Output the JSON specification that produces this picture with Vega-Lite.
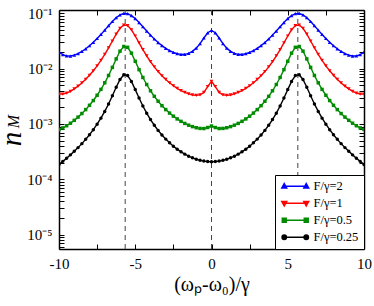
{
"$schema": "https://vega.github.io/schema/vega-lite/v6.json",
"width": 305, "height": 239,
"autosize": "none",
"padding": {"left": 59, "top": 10, "right": 10, "bottom": 57},
"background": "white",
"config": {
  "view": {"stroke": null},
  "font": "Liberation Serif",
  "axis": {"grid": false, "tickColor": "black", "tickWidth": 1, "domainColor": "black", "domainWidth": 1.5, "labelColor": "black", "labelFont": "Liberation Serif", "labelFontSize": 15, "titleColor": "black", "titleFont": "Liberation Serif", "titleFontWeight": "normal"},
  "legend": {"orient": "bottom-right", "offset": 0, "strokeColor": "black", "fillColor": "white", "padding": 5, "labelFont": "Liberation Serif", "labelFontSize": 12.5, "labelColor": "black", "symbolSize": 100, "symbolOffset": 9, "rowPadding": 4, "labelOffset": 12, "symbolOpacity": 1, "symbolStrokeWidth": 1.4}
},
"datasets": {
"guides": [{"v": -5.66}, {"v": 0}, {"v": 5.66}],
"curves": [
{"x":-10,"s":"F/γ=2","n":1.993e-2},{"x":-9.75,"s":"F/γ=2","n":1.788e-2},{"x":-9.5,"s":"F/γ=2","n":1.700e-2},{"x":-9.25,"s":"F/γ=2","n":1.694e-2},{"x":-9,"s":"F/γ=2","n":1.754e-2},{"x":-8.75,"s":"F/γ=2","n":1.872e-2},{"x":-8.5,"s":"F/γ=2","n":2.047e-2},{"x":-8.25,"s":"F/γ=2","n":2.286e-2},{"x":-8,"s":"F/γ=2","n":2.597e-2},{"x":-7.75,"s":"F/γ=2","n":2.999e-2},{"x":-7.5,"s":"F/γ=2","n":3.512e-2},{"x":-7.25,"s":"F/γ=2","n":4.163e-2},{"x":-7,"s":"F/γ=2","n":4.978e-2},{"x":-6.75,"s":"F/γ=2","n":5.973e-2},{"x":-6.5,"s":"F/γ=2","n":7.126e-2},{"x":-6.25,"s":"F/γ=2","n":8.335e-2},{"x":-6,"s":"F/γ=2","n":9.380e-2},{"x":-5.75,"s":"F/γ=2","n":9.962e-2},{"x":-5.5,"s":"F/γ=2","n":9.869e-2},{"x":-5.25,"s":"F/γ=2","n":9.138e-2},{"x":-5,"s":"F/γ=2","n":8.030e-2},{"x":-4.75,"s":"F/γ=2","n":6.832e-2},{"x":-4.5,"s":"F/γ=2","n":5.728e-2},{"x":-4.25,"s":"F/γ=2","n":4.794e-2},{"x":-4,"s":"F/γ=2","n":4.039e-2},{"x":-3.75,"s":"F/γ=2","n":3.440e-2},{"x":-3.5,"s":"F/γ=2","n":2.972e-2},{"x":-3.25,"s":"F/γ=2","n":2.608e-2},{"x":-3,"s":"F/γ=2","n":2.328e-2},{"x":-2.75,"s":"F/γ=2","n":2.116e-2},{"x":-2.5,"s":"F/γ=2","n":1.963e-2},{"x":-2.25,"s":"F/γ=2","n":1.862e-2},{"x":-2,"s":"F/γ=2","n":1.813e-2},{"x":-1.75,"s":"F/γ=2","n":1.818e-2},{"x":-1.5,"s":"F/γ=2","n":1.891e-2},{"x":-1.25,"s":"F/γ=2","n":2.055e-2},{"x":-1,"s":"F/γ=2","n":2.351e-2},{"x":-0.75,"s":"F/γ=2","n":2.842e-2},{"x":-0.5,"s":"F/γ=2","n":3.585e-2},{"x":-0.25,"s":"F/γ=2","n":4.458e-2},
{"x":0,"s":"F/γ=2","n":4.905e-2},
{"x":0.25,"s":"F/γ=2","n":4.458e-2},{"x":0.5,"s":"F/γ=2","n":3.585e-2},{"x":0.75,"s":"F/γ=2","n":2.842e-2},{"x":1,"s":"F/γ=2","n":2.351e-2},{"x":1.25,"s":"F/γ=2","n":2.055e-2},{"x":1.5,"s":"F/γ=2","n":1.891e-2},{"x":1.75,"s":"F/γ=2","n":1.818e-2},{"x":2,"s":"F/γ=2","n":1.813e-2},{"x":2.25,"s":"F/γ=2","n":1.862e-2},{"x":2.5,"s":"F/γ=2","n":1.963e-2},{"x":2.75,"s":"F/γ=2","n":2.116e-2},{"x":3,"s":"F/γ=2","n":2.328e-2},{"x":3.25,"s":"F/γ=2","n":2.608e-2},{"x":3.5,"s":"F/γ=2","n":2.972e-2},{"x":3.75,"s":"F/γ=2","n":3.440e-2},{"x":4,"s":"F/γ=2","n":4.039e-2},{"x":4.25,"s":"F/γ=2","n":4.794e-2},{"x":4.5,"s":"F/γ=2","n":5.728e-2},{"x":4.75,"s":"F/γ=2","n":6.832e-2},{"x":5,"s":"F/γ=2","n":8.030e-2},{"x":5.25,"s":"F/γ=2","n":9.138e-2},{"x":5.5,"s":"F/γ=2","n":9.869e-2},{"x":5.75,"s":"F/γ=2","n":9.962e-2},{"x":6,"s":"F/γ=2","n":9.380e-2},{"x":6.25,"s":"F/γ=2","n":8.335e-2},{"x":6.5,"s":"F/γ=2","n":7.126e-2},{"x":6.75,"s":"F/γ=2","n":5.973e-2},{"x":7,"s":"F/γ=2","n":4.978e-2},{"x":7.25,"s":"F/γ=2","n":4.163e-2},{"x":7.5,"s":"F/γ=2","n":3.512e-2},{"x":7.75,"s":"F/γ=2","n":2.999e-2},{"x":8,"s":"F/γ=2","n":2.597e-2},{"x":8.25,"s":"F/γ=2","n":2.286e-2},{"x":8.5,"s":"F/γ=2","n":2.047e-2},{"x":8.75,"s":"F/γ=2","n":1.872e-2},{"x":9,"s":"F/γ=2","n":1.754e-2},{"x":9.25,"s":"F/γ=2","n":1.694e-2},{"x":9.5,"s":"F/γ=2","n":1.700e-2},{"x":9.75,"s":"F/γ=2","n":1.788e-2},{"x":10,"s":"F/γ=2","n":1.993e-2},

{"x":-10,"s":"F/γ=1","n":3.468e-3},{"x":-9.75,"s":"F/γ=1","n":3.477e-3},{"x":-9.5,"s":"F/γ=1","n":3.629e-3},{"x":-9.25,"s":"F/γ=1","n":3.905e-3},{"x":-9,"s":"F/γ=1","n":4.303e-3},{"x":-8.75,"s":"F/γ=1","n":4.834e-3},{"x":-8.5,"s":"F/γ=1","n":5.527e-3},{"x":-8.25,"s":"F/γ=1","n":6.427e-3},{"x":-8,"s":"F/γ=1","n":7.601e-3},{"x":-7.75,"s":"F/γ=1","n":9.154e-3},{"x":-7.5,"s":"F/γ=1","n":1.1241e-2},{"x":-7.25,"s":"F/γ=1","n":1.4101e-2},{"x":-7,"s":"F/γ=1","n":1.8091e-2},{"x":-6.75,"s":"F/γ=1","n":2.3724e-2},{"x":-6.5,"s":"F/γ=1","n":3.1615e-2},{"x":-6.25,"s":"F/γ=1","n":4.2050e-2},{"x":-6,"s":"F/γ=1","n":5.3615e-2},{"x":-5.75,"s":"F/γ=1","n":6.1455e-2},{"x":-5.5,"s":"F/γ=1","n":6.0039e-2},{"x":-5.25,"s":"F/γ=1","n":5.0513e-2},{"x":-5,"s":"F/γ=1","n":3.8961e-2},{"x":-4.75,"s":"F/γ=1","n":2.9230e-2},{"x":-4.5,"s":"F/γ=1","n":2.2052e-2},{"x":-4.25,"s":"F/γ=1","n":1.6962e-2},{"x":-4,"s":"F/γ=1","n":1.3355e-2},{"x":-3.75,"s":"F/γ=1","n":1.0762e-2},{"x":-3.5,"s":"F/γ=1","n":8.864e-3},{"x":-3.25,"s":"F/γ=1","n":7.449e-3},{"x":-3,"s":"F/γ=1","n":6.375e-3},{"x":-2.75,"s":"F/γ=1","n":5.549e-3},{"x":-2.5,"s":"F/γ=1","n":4.907e-3},{"x":-2.25,"s":"F/γ=1","n":4.406e-3},{"x":-2,"s":"F/γ=1","n":4.016e-3},{"x":-1.75,"s":"F/γ=1","n":3.716e-3},{"x":-1.5,"s":"F/γ=1","n":3.495e-3},{"x":-1.25,"s":"F/γ=1","n":3.351e-3},{"x":-1,"s":"F/γ=1","n":3.296e-3},{"x":-0.75,"s":"F/γ=1","n":3.374e-3},{"x":-0.5,"s":"F/γ=1","n":3.727e-3},{"x":-0.25,"s":"F/γ=1","n":4.726e-3},
{"x":0,"s":"F/γ=1","n":5.914e-3},
{"x":0.25,"s":"F/γ=1","n":4.726e-3},{"x":0.5,"s":"F/γ=1","n":3.727e-3},{"x":0.75,"s":"F/γ=1","n":3.374e-3},{"x":1,"s":"F/γ=1","n":3.296e-3},{"x":1.25,"s":"F/γ=1","n":3.351e-3},{"x":1.5,"s":"F/γ=1","n":3.495e-3},{"x":1.75,"s":"F/γ=1","n":3.716e-3},{"x":2,"s":"F/γ=1","n":4.016e-3},{"x":2.25,"s":"F/γ=1","n":4.406e-3},{"x":2.5,"s":"F/γ=1","n":4.907e-3},{"x":2.75,"s":"F/γ=1","n":5.549e-3},{"x":3,"s":"F/γ=1","n":6.375e-3},{"x":3.25,"s":"F/γ=1","n":7.449e-3},{"x":3.5,"s":"F/γ=1","n":8.864e-3},{"x":3.75,"s":"F/γ=1","n":1.0762e-2},{"x":4,"s":"F/γ=1","n":1.3355e-2},{"x":4.25,"s":"F/γ=1","n":1.6962e-2},{"x":4.5,"s":"F/γ=1","n":2.2052e-2},{"x":4.75,"s":"F/γ=1","n":2.9230e-2},{"x":5,"s":"F/γ=1","n":3.8961e-2},{"x":5.25,"s":"F/γ=1","n":5.0513e-2},{"x":5.5,"s":"F/γ=1","n":6.0039e-2},{"x":5.75,"s":"F/γ=1","n":6.1455e-2},{"x":6,"s":"F/γ=1","n":5.3615e-2},{"x":6.25,"s":"F/γ=1","n":4.2050e-2},{"x":6.5,"s":"F/γ=1","n":3.1615e-2},{"x":6.75,"s":"F/γ=1","n":2.3724e-2},{"x":7,"s":"F/γ=1","n":1.8091e-2},{"x":7.25,"s":"F/γ=1","n":1.4101e-2},{"x":7.5,"s":"F/γ=1","n":1.1241e-2},{"x":7.75,"s":"F/γ=1","n":9.154e-3},{"x":8,"s":"F/γ=1","n":7.601e-3},{"x":8.25,"s":"F/γ=1","n":6.427e-3},{"x":8.5,"s":"F/γ=1","n":5.527e-3},{"x":8.75,"s":"F/γ=1","n":4.834e-3},{"x":9,"s":"F/γ=1","n":4.303e-3},{"x":9.25,"s":"F/γ=1","n":3.905e-3},{"x":9.5,"s":"F/γ=1","n":3.629e-3},{"x":9.75,"s":"F/γ=1","n":3.477e-3},{"x":10,"s":"F/γ=1","n":3.468e-3},

{"x":-10,"s":"F/γ=0.5","n":7.978e-4},{"x":-9.75,"s":"F/γ=0.5","n":8.514e-4},{"x":-9.5,"s":"F/γ=0.5","n":9.294e-4},{"x":-9.25,"s":"F/γ=0.5","n":1.0327e-3},{"x":-9,"s":"F/γ=0.5","n":1.1648e-3},{"x":-8.75,"s":"F/γ=0.5","n":1.3323e-3},{"x":-8.5,"s":"F/γ=0.5","n":1.5454e-3},{"x":-8.25,"s":"F/γ=0.5","n":1.8194e-3},{"x":-8,"s":"F/γ=0.5","n":2.1777e-3},{"x":-7.75,"s":"F/γ=0.5","n":2.6555e-3},{"x":-7.5,"s":"F/γ=0.5","n":3.3085e-3},{"x":-7.25,"s":"F/γ=0.5","n":4.2256e-3},{"x":-7,"s":"F/γ=0.5","n":5.5545e-3},{"x":-6.75,"s":"F/γ=0.5","n":7.5355e-3},{"x":-6.5,"s":"F/γ=0.5","n":1.0543e-2},{"x":-6.25,"s":"F/γ=0.5","n":1.5004e-2},{"x":-6,"s":"F/γ=0.5","n":2.0731e-2},{"x":-5.75,"s":"F/γ=0.5","n":2.5187e-2},{"x":-5.5,"s":"F/γ=0.5","n":2.4340e-2},{"x":-5.25,"s":"F/γ=0.5","n":1.9096e-2},{"x":-5,"s":"F/γ=0.5","n":1.3614e-2},{"x":-4.75,"s":"F/γ=0.5","n":9.599e-3},{"x":-4.5,"s":"F/γ=0.5","n":6.932e-3},{"x":-4.25,"s":"F/γ=0.5","n":5.173e-3},{"x":-4,"s":"F/γ=0.5","n":3.988e-3},{"x":-3.75,"s":"F/γ=0.5","n":3.164e-3},{"x":-3.5,"s":"F/γ=0.5","n":2.576e-3},{"x":-3.25,"s":"F/γ=0.5","n":2.145e-3},{"x":-3,"s":"F/γ=0.5","n":1.822e-3},{"x":-2.75,"s":"F/γ=0.5","n":1.575e-3},{"x":-2.5,"s":"F/γ=0.5","n":1.384e-3},{"x":-2.25,"s":"F/γ=0.5","n":1.235e-3},{"x":-2,"s":"F/γ=0.5","n":1.117e-3},{"x":-1.75,"s":"F/γ=0.5","n":1.0245e-3},{"x":-1.5,"s":"F/γ=0.5","n":9.520e-4},{"x":-1.25,"s":"F/γ=0.5","n":8.965e-4},{"x":-1,"s":"F/γ=0.5","n":8.562e-4},{"x":-0.75,"s":"F/γ=0.5","n":8.317e-4},{"x":-0.5,"s":"F/γ=0.5","n":8.281e-4},{"x":-0.25,"s":"F/γ=0.5","n":8.637e-4},
{"x":0,"s":"F/γ=0.5","n":9.208e-4},
{"x":0.25,"s":"F/γ=0.5","n":8.637e-4},{"x":0.5,"s":"F/γ=0.5","n":8.281e-4},{"x":0.75,"s":"F/γ=0.5","n":8.317e-4},{"x":1,"s":"F/γ=0.5","n":8.562e-4},{"x":1.25,"s":"F/γ=0.5","n":8.965e-4},{"x":1.5,"s":"F/γ=0.5","n":9.520e-4},{"x":1.75,"s":"F/γ=0.5","n":1.0245e-3},{"x":2,"s":"F/γ=0.5","n":1.117e-3},{"x":2.25,"s":"F/γ=0.5","n":1.235e-3},{"x":2.5,"s":"F/γ=0.5","n":1.384e-3},{"x":2.75,"s":"F/γ=0.5","n":1.575e-3},{"x":3,"s":"F/γ=0.5","n":1.822e-3},{"x":3.25,"s":"F/γ=0.5","n":2.145e-3},{"x":3.5,"s":"F/γ=0.5","n":2.576e-3},{"x":3.75,"s":"F/γ=0.5","n":3.164e-3},{"x":4,"s":"F/γ=0.5","n":3.988e-3},{"x":4.25,"s":"F/γ=0.5","n":5.173e-3},{"x":4.5,"s":"F/γ=0.5","n":6.932e-3},{"x":4.75,"s":"F/γ=0.5","n":9.599e-3},{"x":5,"s":"F/γ=0.5","n":1.3614e-2},{"x":5.25,"s":"F/γ=0.5","n":1.9096e-2},{"x":5.5,"s":"F/γ=0.5","n":2.4340e-2},{"x":5.75,"s":"F/γ=0.5","n":2.5187e-2},{"x":6,"s":"F/γ=0.5","n":2.0731e-2},{"x":6.25,"s":"F/γ=0.5","n":1.5004e-2},{"x":6.5,"s":"F/γ=0.5","n":1.0543e-2},{"x":6.75,"s":"F/γ=0.5","n":7.5355e-3},{"x":7,"s":"F/γ=0.5","n":5.5545e-3},{"x":7.25,"s":"F/γ=0.5","n":4.2256e-3},{"x":7.5,"s":"F/γ=0.5","n":3.3085e-3},{"x":7.75,"s":"F/γ=0.5","n":2.6555e-3},{"x":8,"s":"F/γ=0.5","n":2.1777e-3},{"x":8.25,"s":"F/γ=0.5","n":1.8194e-3},{"x":8.5,"s":"F/γ=0.5","n":1.5454e-3},{"x":8.75,"s":"F/γ=0.5","n":1.3323e-3},{"x":9,"s":"F/γ=0.5","n":1.1648e-3},{"x":9.25,"s":"F/γ=0.5","n":1.0327e-3},{"x":9.5,"s":"F/γ=0.5","n":9.294e-4},{"x":9.75,"s":"F/γ=0.5","n":8.514e-4},{"x":10,"s":"F/γ=0.5","n":7.978e-4},

{"x":-10,"s":"F/γ=0.25","n":1.861e-4},{"x":-9.75,"s":"F/γ=0.25","n":2.111e-4},{"x":-9.5,"s":"F/γ=0.25","n":2.409e-4},{"x":-9.25,"s":"F/γ=0.25","n":2.767e-4},{"x":-9,"s":"F/γ=0.25","n":3.204e-4},{"x":-8.75,"s":"F/γ=0.25","n":3.742e-4},{"x":-8.5,"s":"F/γ=0.25","n":4.417e-4},{"x":-8.25,"s":"F/γ=0.25","n":5.277e-4},{"x":-8,"s":"F/γ=0.25","n":6.396e-4},{"x":-7.75,"s":"F/γ=0.25","n":7.883e-4},{"x":-7.5,"s":"F/γ=0.25","n":9.911e-4},{"x":-7.25,"s":"F/γ=0.25","n":1.276e-3},{"x":-7,"s":"F/γ=0.25","n":1.688e-3},{"x":-6.75,"s":"F/γ=0.25","n":2.302e-3},{"x":-6.5,"s":"F/γ=0.25","n":3.234e-3},{"x":-6.25,"s":"F/γ=0.25","n":4.616e-3},{"x":-6,"s":"F/γ=0.25","n":6.390e-3},{"x":-5.75,"s":"F/γ=0.25","n":7.771e-3},{"x":-5.5,"s":"F/γ=0.25","n":7.509e-3},{"x":-5.25,"s":"F/γ=0.25","n":5.884e-3},{"x":-5,"s":"F/γ=0.25","n":4.186e-3},{"x":-4.75,"s":"F/γ=0.25","n":2.942e-3},{"x":-4.5,"s":"F/γ=0.25","n":2.116e-3},{"x":-4.25,"s":"F/γ=0.25","n":1.571e-3},{"x":-4,"s":"F/γ=0.25","n":1.204e-3},{"x":-3.75,"s":"F/γ=0.25","n":9.489e-4},{"x":-3.5,"s":"F/γ=0.25","n":7.667e-4},{"x":-3.25,"s":"F/γ=0.25","n":6.331e-4},{"x":-3,"s":"F/γ=0.25","n":5.329e-4},{"x":-2.75,"s":"F/γ=0.25","n":4.565e-4},{"x":-2.5,"s":"F/γ=0.25","n":3.972e-4},{"x":-2.25,"s":"F/γ=0.25","n":3.508e-4},{"x":-2,"s":"F/γ=0.25","n":3.142e-4},{"x":-1.75,"s":"F/γ=0.25","n":2.852e-4},{"x":-1.5,"s":"F/γ=0.25","n":2.623e-4},{"x":-1.25,"s":"F/γ=0.25","n":2.444e-4},{"x":-1,"s":"F/γ=0.25","n":2.306e-4},{"x":-0.75,"s":"F/γ=0.25","n":2.205e-4},{"x":-0.5,"s":"F/γ=0.25","n":2.135e-4},{"x":-0.25,"s":"F/γ=0.25","n":2.094e-4},
{"x":0,"s":"F/γ=0.25","n":2.080e-4},
{"x":0.25,"s":"F/γ=0.25","n":2.094e-4},{"x":0.5,"s":"F/γ=0.25","n":2.135e-4},{"x":0.75,"s":"F/γ=0.25","n":2.205e-4},{"x":1,"s":"F/γ=0.25","n":2.306e-4},{"x":1.25,"s":"F/γ=0.25","n":2.444e-4},{"x":1.5,"s":"F/γ=0.25","n":2.623e-4},{"x":1.75,"s":"F/γ=0.25","n":2.852e-4},{"x":2,"s":"F/γ=0.25","n":3.142e-4},{"x":2.25,"s":"F/γ=0.25","n":3.508e-4},{"x":2.5,"s":"F/γ=0.25","n":3.972e-4},{"x":2.75,"s":"F/γ=0.25","n":4.565e-4},{"x":3,"s":"F/γ=0.25","n":5.329e-4},{"x":3.25,"s":"F/γ=0.25","n":6.331e-4},{"x":3.5,"s":"F/γ=0.25","n":7.667e-4},{"x":3.75,"s":"F/γ=0.25","n":9.489e-4},{"x":4,"s":"F/γ=0.25","n":1.204e-3},{"x":4.25,"s":"F/γ=0.25","n":1.571e-3},{"x":4.5,"s":"F/γ=0.25","n":2.116e-3},{"x":4.75,"s":"F/γ=0.25","n":2.942e-3},{"x":5,"s":"F/γ=0.25","n":4.186e-3},{"x":5.25,"s":"F/γ=0.25","n":5.884e-3},{"x":5.5,"s":"F/γ=0.25","n":7.509e-3},{"x":5.75,"s":"F/γ=0.25","n":7.771e-3},{"x":6,"s":"F/γ=0.25","n":6.390e-3},{"x":6.25,"s":"F/γ=0.25","n":4.616e-3},{"x":6.5,"s":"F/γ=0.25","n":3.234e-3},{"x":6.75,"s":"F/γ=0.25","n":2.302e-3},{"x":7,"s":"F/γ=0.25","n":1.688e-3},{"x":7.25,"s":"F/γ=0.25","n":1.276e-3},{"x":7.5,"s":"F/γ=0.25","n":9.911e-4},{"x":7.75,"s":"F/γ=0.25","n":7.883e-4},{"x":8,"s":"F/γ=0.25","n":6.396e-4},{"x":8.25,"s":"F/γ=0.25","n":5.277e-4},{"x":8.5,"s":"F/γ=0.25","n":4.417e-4},{"x":8.75,"s":"F/γ=0.25","n":3.742e-4},{"x":9,"s":"F/γ=0.25","n":3.204e-4},{"x":9.25,"s":"F/γ=0.25","n":2.767e-4},{"x":9.5,"s":"F/γ=0.25","n":2.409e-4},{"x":9.75,"s":"F/γ=0.25","n":2.111e-4},{"x":10,"s":"F/γ=0.25","n":1.861e-4}
]
},
"layer": [
{
  "data": {"name": "guides"},
  "mark": {"type": "rule", "color": "#444444", "strokeWidth": 1, "strokeDash": [5, 4]},
  "encoding": {"x": {"field": "v", "type": "quantitative", "scale": {"domain": [-10, 10], "nice": false}, "axis": null}}
},
{
  "data": {"name": "curves"},
  "mark": {"type": "line", "strokeWidth": 1.4, "clip": true},
  "encoding": {
    "x": {"field": "x", "type": "quantitative", "scale": {"domain": [-10, 10], "nice": false},
      "axis": {"orient": "bottom", "values": [-10, -7.5, -5, -2.5, 0, 2.5, 5, 7.5, 10], "labelExpr": "datum.value % 5 === 0 ? '' + datum.value : ''", "tickSize": -5, "labelPadding": 12, "labelFlush": false, "labelOverlap": false, "title": "(ωₚ-ω₀)/γ", "titleFontSize": 20, "titlePadding": 3}},
    "y": {"field": "n", "type": "quantitative", "scale": {"type": "log", "domain": [5.5e-6, 0.115], "nice": false},
      "axis": {"orient": "left", "values": [0.000006,0.000007,0.000008,0.000009,0.00001,0.00002,0.00003,0.00004,0.00005,0.00006,0.00007,0.00008,0.00009,0.0001,0.0002,0.0003,0.0004,0.0005,0.0006,0.0007,0.0008,0.0009,0.001,0.002,0.003,0.004,0.005,0.006,0.007,0.008,0.009,0.01,0.02,0.03,0.04,0.05,0.06,0.07,0.08,0.09,0.1],
        "labelExpr": "abs(log(datum.value)/LN10 - round(log(datum.value)/LN10)) < 0.01 ? '10' + ['','⁻¹','⁻²','⁻³','⁻⁴','⁻⁵','⁻⁶'][-round(log(datum.value)/LN10)] : ''",
        "tickSize": -5, "labelPadding": 12, "labelFlush": false, "labelOverlap": false,
        "title": "n", "titleFontSize": 29, "titleFontStyle": "italic", "titleAngle": -90, "titleAlign": "center", "titleBaseline": "alphabetic", "titleX": -39, "titleY": 128.5}},
    "stroke": {"field": "s", "type": "nominal",
      "scale": {"domain": ["F/γ=2", "F/γ=1", "F/γ=0.5", "F/γ=0.25"], "range": ["#0000ff", "#ff0000", "#008b00", "#000000"]},
      "legend": {"title": null}}
  }
},
{
  "data": {"name": "curves"},
  "mark": {"type": "point", "opacity": 0, "filled": true},
  "encoding": {
    "x": {"field": "x", "type": "quantitative", "axis": null},
    "y": {"field": "n", "type": "quantitative", "scale": {"type": "log"}, "axis": null},
    "fill": {"field": "s", "type": "nominal", "scale": {"domain": ["F/γ=2", "F/γ=1", "F/γ=0.5", "F/γ=0.25"], "range": ["#0000ff", "#ff0000", "#008b00", "#000000"]}, "legend": {"title": null}},
    "stroke": {"field": "s", "type": "nominal", "legend": {"title": null}},
    "shape": {"field": "s", "type": "nominal", "legend": {"title": null},
      "scale": {"domain": ["F/γ=2", "F/γ=1", "F/γ=0.5", "F/γ=0.25"], "range": [
        "M-2.2,0L2.2,0M-2.2,-0.55L-1.7,0.35L-2.7,0.35ZM2.2,-0.55L2.7,0.35L1.7,0.35Z",
        "M-2.2,0L2.2,0M-2.2,0.55L-1.7,-0.35L-2.7,-0.35ZM2.2,0.55L2.7,-0.35L1.7,-0.35Z",
        "M-2.2,0L2.2,0M-2.6,-0.4L-1.8,-0.4L-1.8,0.4L-2.6,0.4ZM1.8,-0.4L2.6,-0.4L2.6,0.4L1.8,0.4Z",
        "M-2.2,0L2.2,0M-2.65,0A0.45,0.45 0 1,0 -1.75,0A0.45,0.45 0 1,0 -2.65,0ZM1.75,0A0.45,0.45 0 1,0 2.65,0A0.45,0.45 0 1,0 1.75,0Z"]}}
  }
},
{
  "data": {"name": "curves"},
  "transform": [{"filter": "datum.s === 'F/γ=2'"}],
  "mark": {"type": "point", "shape": "triangle-up", "filled": true, "size": 14, "opacity": 1, "color": "#0000ff", "clip": true},
  "encoding": {
    "x": {"field": "x", "type": "quantitative", "axis": null},
    "y": {"field": "n", "type": "quantitative", "scale": {"type": "log"}, "axis": null}
  }
},
{
  "data": {"name": "curves"},
  "transform": [{"filter": "datum.s === 'F/γ=1'"}],
  "mark": {"type": "point", "shape": "triangle-down", "filled": true, "size": 14, "opacity": 1, "color": "#ff0000", "clip": true},
  "encoding": {
    "x": {"field": "x", "type": "quantitative", "axis": null},
    "y": {"field": "n", "type": "quantitative", "scale": {"type": "log"}, "axis": null}
  }
},
{
  "data": {"name": "curves"},
  "transform": [{"filter": "datum.s === 'F/γ=0.5'"}],
  "mark": {"type": "point", "shape": "square", "filled": true, "size": 12, "opacity": 1, "color": "#008b00", "clip": true},
  "encoding": {
    "x": {"field": "x", "type": "quantitative", "axis": null},
    "y": {"field": "n", "type": "quantitative", "scale": {"type": "log"}, "axis": null}
  }
},
{
  "data": {"name": "curves"},
  "transform": [{"filter": "datum.s === 'F/γ=0.25'"}],
  "mark": {"type": "point", "shape": "circle", "filled": true, "size": 12, "opacity": 1, "color": "#000000", "clip": true},
  "encoding": {
    "x": {"field": "x", "type": "quantitative", "axis": null},
    "y": {"field": "n", "type": "quantitative", "scale": {"type": "log"}, "axis": null}
  }
},
{
  "data": {"name": "curves"},
  "mark": {"type": "point", "opacity": 0},
  "encoding": {
    "x": {"field": "x", "type": "quantitative",
      "axis": {"orient": "top", "values": [-10, -7.5, -5, -2.5, 0, 2.5, 5, 7.5, 10], "labels": false, "tickSize": -5, "title": null}},
    "y": {"field": "n", "type": "quantitative", "scale": {"type": "log"},
      "axis": {"orient": "right", "values": [0.000006,0.000007,0.000008,0.000009,0.00001,0.00002,0.00003,0.00004,0.00005,0.00006,0.00007,0.00008,0.00009,0.0001,0.0002,0.0003,0.0004,0.0005,0.0006,0.0007,0.0008,0.0009,0.001,0.002,0.003,0.004,0.005,0.006,0.007,0.008,0.009,0.01,0.02,0.03,0.04,0.05,0.06,0.07,0.08,0.09,0.1], "labels": false, "tickSize": -5,
        "title": "M", "titleFontSize": 16, "titleFontStyle": "italic", "titleAngle": -90, "titleAlign": "center", "titleBaseline": "alphabetic", "titleX": -346, "titleY": 111}}
  }
}
],
"resolve": {"axis": {"x": "independent", "y": "independent"}}
}
